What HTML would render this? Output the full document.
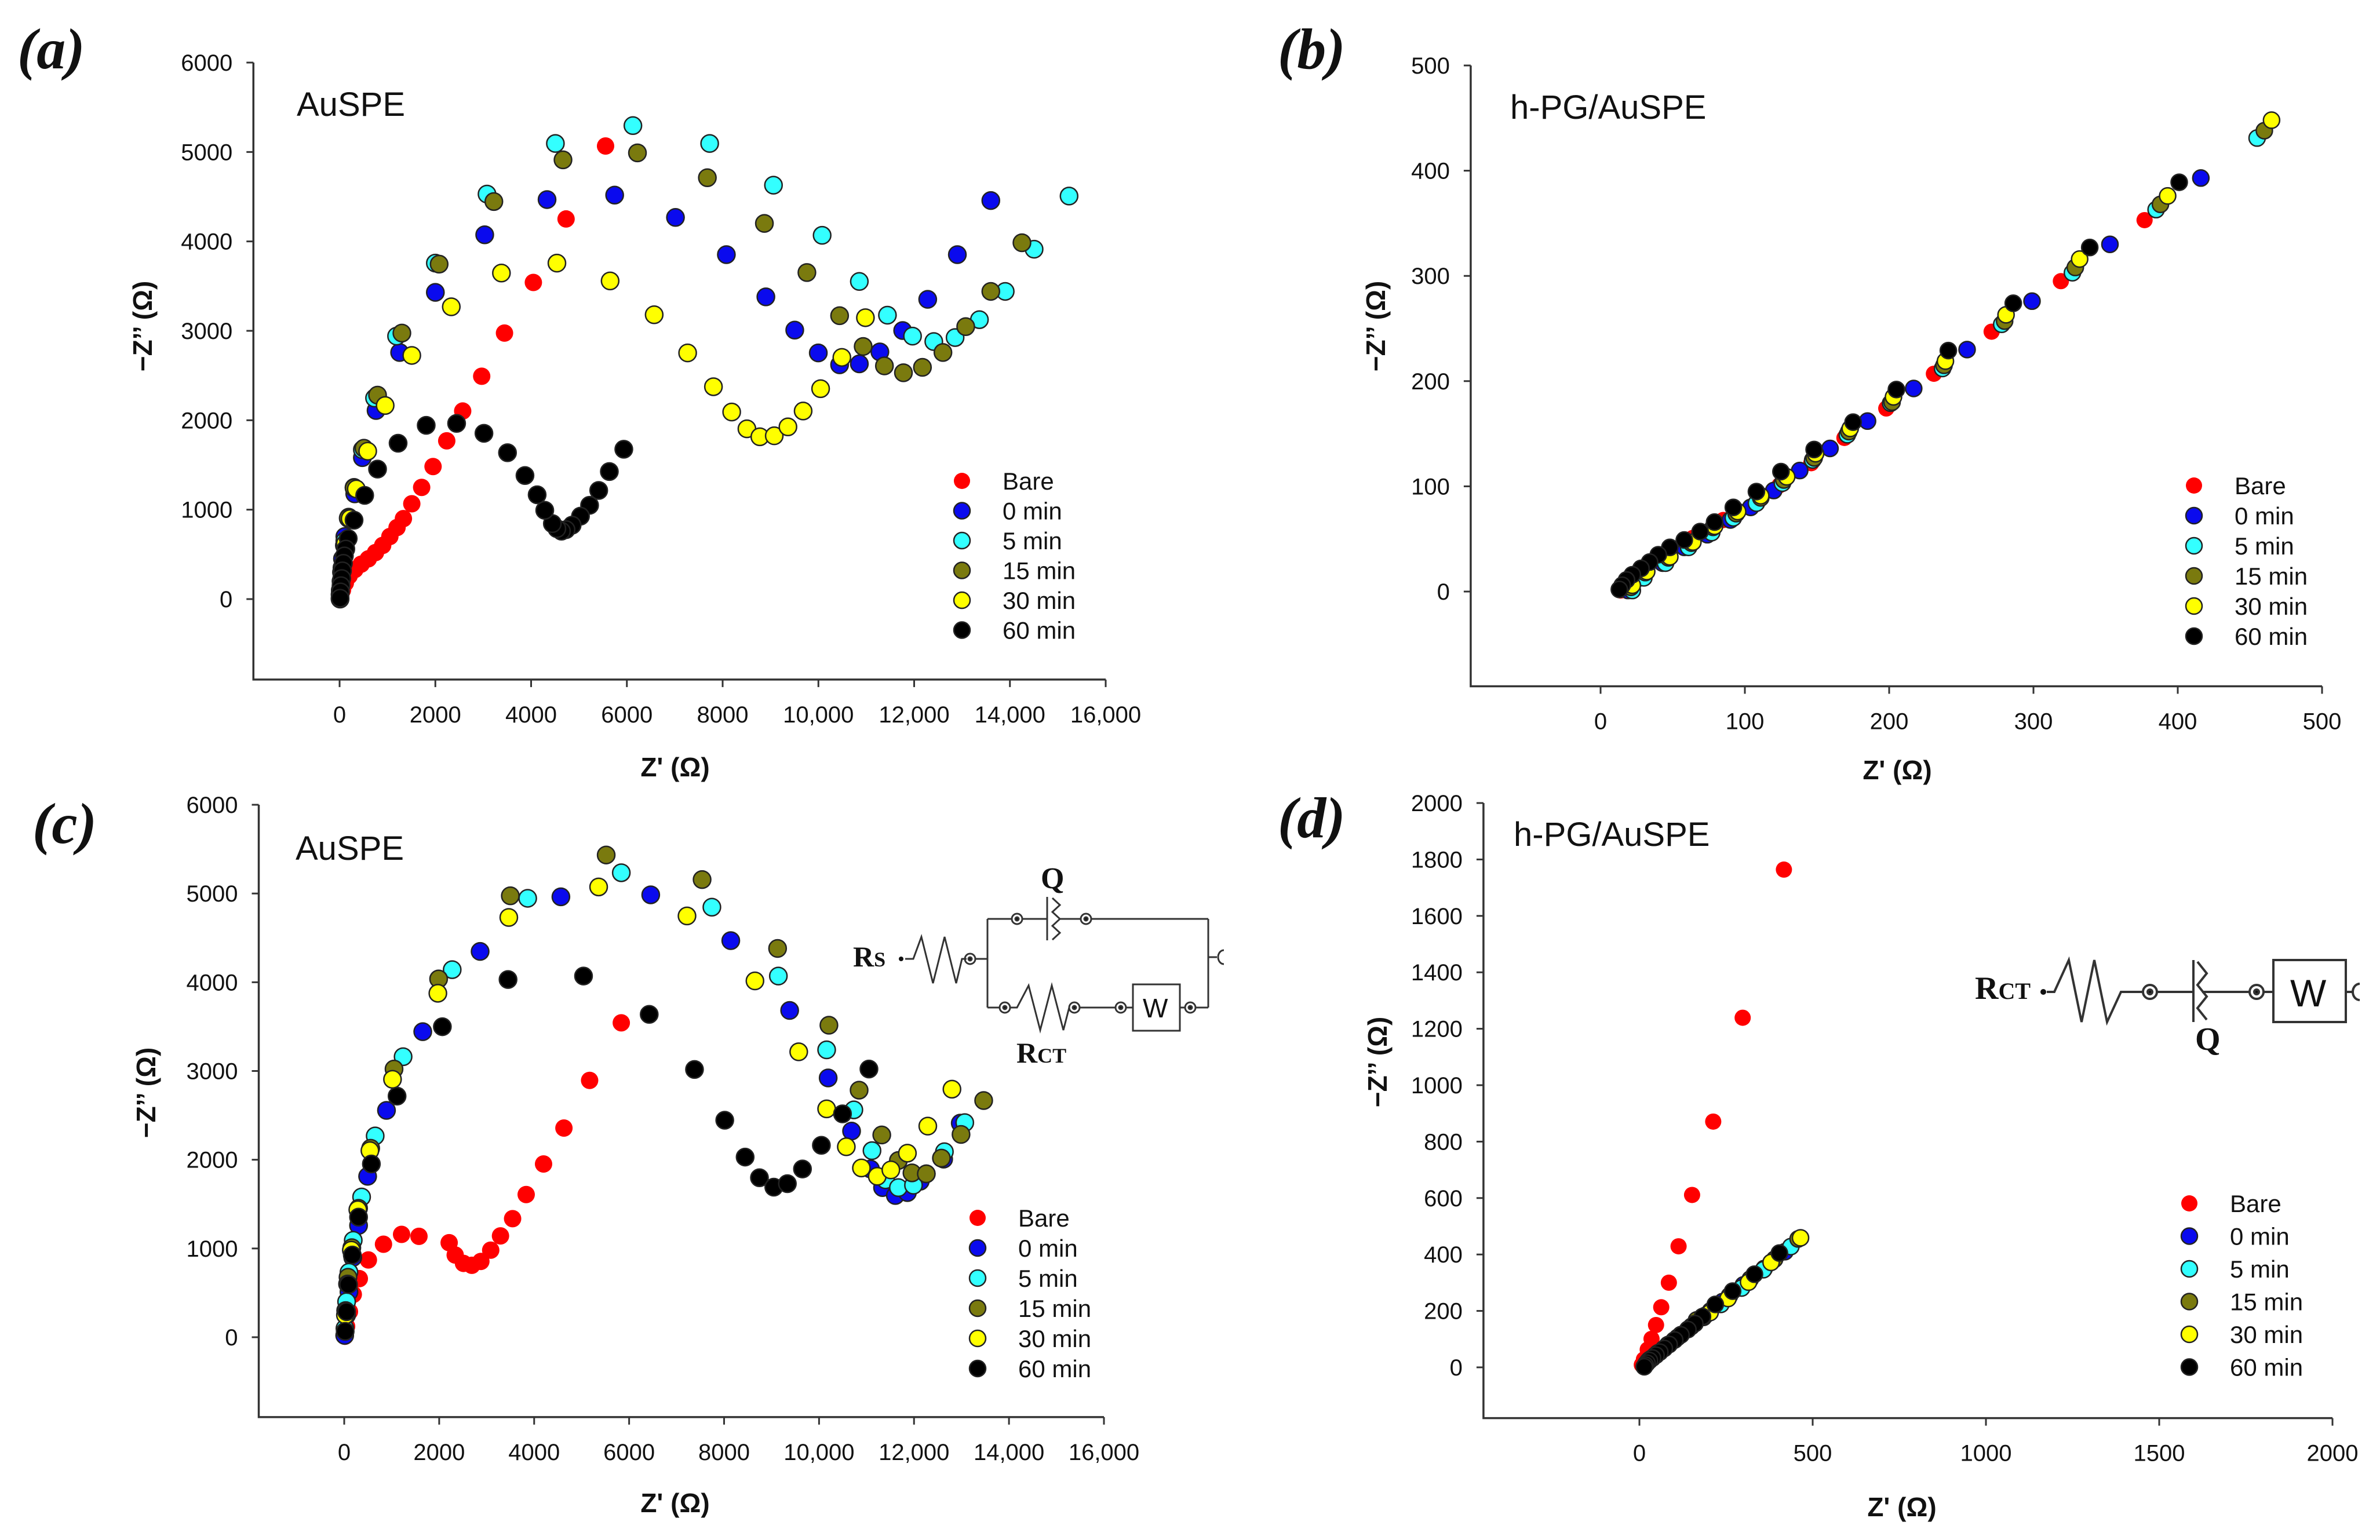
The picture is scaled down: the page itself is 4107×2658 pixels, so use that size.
<!DOCTYPE html>
<html><head><meta charset="utf-8"><style>
html,body{margin:0;padding:0;background:#fff;}
svg{display:block;}
text{font-family:"Liberation Sans",Arial,sans-serif;fill:#111;}
.ser{font-family:"Liberation Serif","Times New Roman",serif;font-weight:bold;}
</style></head><body>
<svg id="fig" xmlns="http://www.w3.org/2000/svg" width="4107" height="2658" viewBox="0 0 4107 2658">
<text class="ser" x="30" y="118" font-size="100" font-style="italic">(a)</text>
<text class="ser" x="2205" y="118" font-size="100" font-style="italic">(b)</text>
<text class="ser" x="56" y="1455" font-size="100" font-style="italic">(c)</text>
<text class="ser" x="2205" y="1445" font-size="100" font-style="italic">(d)</text>
<text x="512" y="200" font-size="58">AuSPE</text>
<text x="2606" y="205" font-size="58">h-PG/AuSPE</text>
<text x="510" y="1484" font-size="58">AuSPE</text>
<text x="2612" y="1460" font-size="58">h-PG/AuSPE</text>

<g fill="none" stroke="#333" stroke-width="3">
<text class="ser" x="1472" y="1668" font-size="50" stroke="none" fill="#111">R<tspan font-size="36">S</tspan></text>
<circle cx="1555" cy="1655" r="4" fill="#111" stroke="none"/>
<polyline points="1562,1655 1576,1655 1590,1617 1610,1697 1630,1617 1650,1697 1660,1655 1668,1655"/>
<circle cx="1674" cy="1655" r="9"/><circle cx="1674" cy="1655" r="3" fill="#111"/>
<line x1="1683" y1="1655" x2="1704" y2="1655"/>
<polyline points="1704,1586 1704,1739"/>
<line x1="1704" y1="1586" x2="1746" y2="1586"/>
<circle cx="1755" cy="1586" r="9"/><circle cx="1755" cy="1586" r="3" fill="#111"/>
<line x1="1764" y1="1586" x2="1807" y2="1586"/>
<line x1="1807" y1="1548" x2="1807" y2="1623"/>
<polyline points="1816,1550 1829,1562 1816,1574 1829,1586 1816,1598 1829,1610 1816,1622"/>
<line x1="1829" y1="1586" x2="1865" y2="1586"/>
<circle cx="1874" cy="1586" r="9"/><circle cx="1874" cy="1586" r="3" fill="#111"/>
<line x1="1883" y1="1586" x2="2085" y2="1586"/>
<line x1="2085" y1="1586" x2="2085" y2="1739"/>
<line x1="2085" y1="1652" x2="2100" y2="1652"/>
<path d="M2112,1640 A10,12 0 0,0 2112,1664"/>
<line x1="1704" y1="1739" x2="1725" y2="1739"/>
<circle cx="1734" cy="1739" r="9"/><circle cx="1734" cy="1739" r="3" fill="#111"/>
<polyline points="1743,1739 1755,1739 1775,1701 1795,1778 1815,1701 1835,1778 1845,1739"/>
<circle cx="1854" cy="1739" r="9"/><circle cx="1854" cy="1739" r="3" fill="#111"/>
<line x1="1863" y1="1739" x2="1925" y2="1739"/>
<circle cx="1934" cy="1739" r="9"/><circle cx="1934" cy="1739" r="3" fill="#111"/>
<line x1="1943" y1="1739" x2="1955" y2="1739"/>
<rect x="1955" y="1699" width="81" height="80"/>
<text x="1972" y="1756" font-size="46" stroke="none" fill="#333">W</text>
<line x1="2036" y1="1739" x2="2045" y2="1739"/>
<circle cx="2054" cy="1739" r="9"/><circle cx="2054" cy="1739" r="3" fill="#111"/>
<line x1="2063" y1="1739" x2="2085" y2="1739"/>
<text class="ser" x="1796" y="1533" font-size="52" stroke="none" fill="#111">Q</text>
<text class="ser" x="1754" y="1834" font-size="50" stroke="none" fill="#111">R<tspan font-size="36">CT</tspan></text>
</g>

<g fill="none" stroke="#333" stroke-width="4">
<text class="ser" x="3408" y="1724" font-size="56" stroke="none" fill="#111">R<tspan font-size="40">CT</tspan></text>
<circle cx="3526" cy="1712" r="5" fill="#111" stroke="none"/>
<polyline points="3532,1712 3545,1712 3570,1657 3592,1764 3614,1657 3636,1764 3660,1712 3698,1712"/>
<circle cx="3710" cy="1712" r="12"/><circle cx="3710" cy="1712" r="4" fill="#111"/>
<line x1="3722" y1="1712" x2="3785" y2="1712"/>
<line x1="3785" y1="1657" x2="3785" y2="1764"/>
<polyline points="3792,1660 3808,1680 3792,1700 3808,1720 3792,1740 3808,1760"/>
<line x1="3800" y1="1712" x2="3882" y2="1712"/>
<circle cx="3894" cy="1712" r="12"/><circle cx="3894" cy="1712" r="4" fill="#111"/>
<line x1="3906" y1="1712" x2="3923" y2="1712"/>
<rect x="3923" y="1657" width="125" height="107"/>
<text x="3952" y="1737" font-size="66" stroke="none" fill="#222">W</text>
<line x1="4048" y1="1712" x2="4060" y2="1712"/>
<path d="M4072,1698 A12,14 0 0,0 4072,1726"/>
<text class="ser" x="3788" y="1812" font-size="56" stroke="none" fill="#111">Q</text>
</g>
</svg>
<script>
const seriesNamesA = ["Bare","0  min","5 min","15 min","30 min","60 min"];
const seriesNames = ["Bare","0 min","5 min","15 min","30 min","60 min"];
const seriesColors = ["#ff0000","#0a0aee","#33ffff","#7a7a0e","#ffff00","#000000"];

const aBare = [[5555,5067],[4730,4251],[4047,3541],[3444,2975],[2968,2492],[2571,2103],[2238,1770],[1952,1482],[1714,1249],[1508,1066],[1333,900],[1200,800],[1050,700],[900,600],[750,520],[600,450],[450,390],[320,330],[200,260],[120,180],[60,100],[20,30],[5,0]];
const a0 = [[4333,4468],[5745,4518],[7015,4268],[8078,3852],[8903,3380],[9506,3008],[9998,2753],[10443,2620],[10855,2631],[11284,2764],[11760,3003],[12283,3352],[12902,3852],[13601,4457],[3031,4074],[2000,3430],[1254,2758],[762,2109],[476,1582],[317,1177],[190,900],[110,700],[60,450],[30,200],[10,0]];
const a5 = [[4507,5095],[6126,5295],[7729,5095],[9062,4629],[10078,4068],[10855,3552],[11442,3175],[11966,2941],[12410,2880],[12855,2925],[13363,3125],[13902,3441],[14505,3913],[15235,4507],[3079,4529],[2000,3757],[1190,2941],[730,2248],[476,1671],[302,1249],[190,916],[110,650],[50,350],[15,100]];
const a15 = [[4666,4912],[6221,4990],[7681,4712],[8872,4201],[9760,3652],[10443,3169],[10935,2825],[11379,2608],[11776,2531],[12173,2592],[12601,2758],[13077,3047],[13601,3441],[14251,3985],[3222,4446],[2079,3746],[1301,2975],[793,2281],[508,1687],[302,1243],[180,905],[100,600],[40,300],[10,50]];
const a30 = [[4539,3757],[5650,3558],[6570,3180],[7269,2753],[7808,2375],[8189,2092],[8507,1904],[8777,1815],[9078,1826],[9364,1926],[9681,2103],[10046,2353],[10490,2703],[10982,3147],[3380,3646],[2333,3269],[1508,2725],[952,2165],[587,1654],[349,1232],[220,900],[120,620],[50,320],[15,80]];
const a60 = [[5936,1676],[5634,1426],[5412,1215],[5221,1049],[5031,927],[4857,827],[4730,777],[4634,760],[4539,788],[4444,844],[4285,993],[4126,1166],[3872,1382],[3507,1637],[3015,1854],[2444,1965],[1809,1943],[1222,1743],[793,1454],[524,1160],[302,882],[180,677],[130,560],[100,483],[80,400],[60,316],[45,230],[30,150],[20,80],[10,10]];

const bBare = [[377,353],[319,295],[271,247],[231,207],[198,174],[169,146],[146,122],[124,101],[106,82],[85,68],[64,51],[48,37],[32,23],[19,9],[14,1]];
const b0 = [[416,393],[353,330],[299,276],[254,230],[217,193],[185,162],[159,136],[138,115],[120,96],[104,80],[90,68],[74,54],[58,42],[43,27],[27,13],[19,1]];
const b5 = [[455,431],[385,363],[327,303],[278,254],[237,212],[201,179],[171,149],[147,125],[126,103],[108,84],[92,70],[77,56],[61,42],[45,27],[30,13],[22,1]];
const b15 = [[460,438],[388,368],[329,308],[280,257],[238,215],[202,180],[172,152],[148,127],[127,106],[111,89],[94,74],[78,61],[63,46],[47,32],[31,18],[21,4]];
const b30 = [[465,448],[393,376],[332,316],[281,263],[239,219],[203,185],[173,155],[149,131],[129,109],[111,91],[95,76],[79,62],[64,47],[48,33],[32,19],[22,6]];
const b60 = [[401,389],[339,327],[286,274],[241,229],[205,192],[175,161],[148,135],[125,114],[108,95],[92,80],[79,66],[69,57],[58,49],[48,42],[40,35],[34,28],[28,22],[22,16],[18,11],[15,6],[13,2]];

const cBare = [[5835,3543],[5168,2894],[4627,2357],[4198,1952],[3832,1608],[3546,1336],[3291,1142],[3085,981],[2878,854],[2687,810],[2512,832],[2337,926],[2210,1065],[1574,1137],[1208,1159],[827,1048],[509,871],[318,660],[191,482],[110,288],[50,122],[15,11]];
const c0 = [[8141,4469],[6455,4985],[4563,4963],[2862,4347],[1654,3443],[890,2556],[493,1813],[302,1259],[180,898],[100,510],[50,250],[10,20],[9381,3682],[10192,2922],[10685,2323],[11083,1896],[11337,1686],[11607,1597],[11861,1630],[12131,1758],[12624,2007],[12974,2412]];
const c5 = [[7743,4846],[5835,5234],[3864,4946],[2274,4142],[1240,3161],[652,2268],[366,1580],[190,1092],[100,732],[50,400],[15,100],[9143,4070],[10160,3238],[10733,2562],[11115,2102],[11400,1774],[11671,1686],[11989,1713],[12259,1841],[12640,2090],[13069,2418]];
const c15 = [[5517,5434],[7537,5157],[9127,4381],[10208,3516],[10844,2784],[11321,2279],[11671,1991],[11957,1852],[12259,1841],[12577,2018],[12990,2285],[13467,2667],[3498,4974],[1988,4037],[1049,3022],[557,2129],[302,1453],[160,1009],[80,676],[30,300]];
const c30 = [[5358,5074],[7219,4747],[8650,4015],[9572,3216],[10160,2573],[10574,2146],[10892,1907],[11226,1813],[11512,1885],[11861,2074],[12290,2379],[12799,2795],[3466,4730],[1972,3876],[1017,2906],[541,2102],[286,1436],[150,981],[70,600],[25,250]];
const c60 = [[5040,4070],[3450,4031],[2067,3499],[1113,2717],[572,1952],[302,1353],[170,926],[90,593],[50,288],[20,66],[6423,3638],[7377,3017],[8014,2445],[8443,2030],[8745,1797],[9047,1691],[9333,1730],[9651,1896],[10049,2163],[10494,2517],[11051,3022]];

const dBare = [[417,1764],[298,1239],[213,871],[152,611],[113,429],[85,300],[63,213],[48,150],[35,101],[24,63],[13,28],[7,9]];
const d0 = [[420,410],[360,350],[300,292],[240,233],[190,184],[150,145],[110,106],[80,77],[55,52],[35,32],[20,14]];
const d5 = [[437,428],[358,346],[295,281],[235,223],[185,177],[140,135],[100,96],[70,66],[45,42],[25,22]];
const d15 = [[458,455],[390,383],[320,313],[260,254],[205,200],[165,168],[120,116],[85,82],[55,52],[30,28]];
const d30 = [[465,459],[380,372],[315,302],[256,244],[204,194],[160,155],[118,114],[82,80],[52,50],[28,26]];
const d60 = [[404,405],[332,330],[269,270],[219,223],[182,180],[160,155],[140,134],[120,115],[102,97],[86,81],[72,67],[59,54],[48,43],[38,33],[29,24],[22,15],[17,8],[14,2]];

const aYTicks = [0,1000,2000,3000,4000,5000,6000];
const aXTicks = [0,2000,4000,6000,8000,10000,12000,14000,16000];
const aXTickLabels = ["0","2000","4000","6000","8000","10,000","12,000","14,000","16,000"];
const bYTicks = [0,100,200,300,400,500];
const bXTicks = [0,100,200,300,400,500];
const dYTicks = [0,200,400,600,800,1000,1200,1400,1600,1800,2000];
const dXTicks = [0,500,1000,1500,2000];

const NS = "http://www.w3.org/2000/svg";
const svg = document.getElementById("fig");
function mk(tag, attrs, parent){ const e=document.createElementNS(NS,tag); for(const k in attrs) e.setAttribute(k,attrs[k]); (parent||svg).appendChild(e); return e; }

function panel(cfg){
  const g = mk("g",{});
  
  
  const sx = v => cfg.x0px + v * (cfg.xTickPx - cfg.x0px) / cfg.xTickVal;
  const sy = v => cfg.y0px - v * (cfg.y0px - cfg.yTickPx) / cfg.yTickVal;
  const left = sx(cfg.xmin), right = sx(cfg.xmax), bottom = sy(cfg.ymin), top = sy(cfg.ymax);
  const ax = mk("path",{d:`M${left},${top} L${left},${bottom} L${right},${bottom}`,fill:"none",stroke:"#333","stroke-width":3.5},g);
  
  
  cfg.yTicks.forEach((t)=>{
    const y = sy(t);
    mk("line",{x1:left-12,y1:y,x2:left,y2:y,stroke:"#333","stroke-width":3},g);
    const tx = mk("text",{x:left-36,y:y+14,"font-size":40,"text-anchor":"end"},g);
    tx.textContent = String(t);
    
    
  });
  cfg.xTicks.forEach((t,i)=>{
    const x = sx(t);
    mk("line",{x1:x,y1:bottom,x2:x,y2:bottom+13,stroke:"#333","stroke-width":3},g);
    const tx = mk("text",{x:x,y:bottom+74,"font-size":40,"text-anchor":"middle"},g);
    tx.textContent = cfg.xLabels ? cfg.xLabels[i] : String(t);
    
    
  });
  const xt = mk("text",{x:cfg.xTitle[0],y:cfg.xTitle[1],"font-size":46,"font-weight":"bold","text-anchor":"middle"},g);
  xt.textContent = "Z' (Ω)";
  
  
  const yt = mk("text",{x:0,y:0,"font-size":46,"font-weight":"bold","text-anchor":"middle",transform:`translate(${cfg.yTitle[0]},${cfg.yTitle[1]}) rotate(-90)`},g);
  yt.textContent = "−Z’’ (Ω)";
  
  
  cfg.series.forEach((pts,si)=>{
    const sg = mk("g",{},g);
    
    
    pts.forEach(p=>{
      const c = mk("circle",{cx:sx(p[0]),cy:sy(p[1]),r:cfg.r,fill:seriesColors[si],stroke:si===0?"none":"#222","stroke-width":2.5},sg);
      
      
    });
  });
  const lg = mk("g",{},g);
  
  
  cfg.names.forEach((n,i)=>{
    const y = cfg.leg[1] + i*cfg.leg[2];
    mk("circle",{cx:cfg.leg[0],cy:y,r:14,fill:seriesColors[i],stroke:i===0?"none":"#222","stroke-width":2.5},lg);
    const t = mk("text",{x:cfg.leg[0]+70,y:y+15,"font-size":42,"xml:space":"preserve"},lg);
    t.textContent = n;
    
    
  });
}

panel({id:"a",x0px:586,xTickPx:1908,xTickVal:16000,y0px:1034,yTickPx:108,yTickVal:6000,
  xmin:-1800,xmax:16000,ymin:-900,ymax:6000,yTicks:aYTicks,xTicks:aXTicks,xLabels:aXTickLabels,
  xTitle:[1165,1340],yTitle:[262,563],r:15,series:[aBare,a0,a5,a15,a30,a60],leg:[1660,830,51.5],names:seriesNamesA});
panel({id:"b",x0px:2762,xTickPx:4007,xTickVal:500,y0px:1021,yTickPx:113,yTickVal:500,
  xmin:-90,xmax:500,ymin:-90,ymax:500,yTicks:bYTicks,xTicks:bXTicks,
  xTitle:[3274,1345],yTitle:[2390,563],r:14,series:[bBare,b0,b5,b15,b30,b60],leg:[3786,838,52],names:seriesNames});
panel({id:"c",x0px:594,xTickPx:1905,xTickVal:16000,y0px:2308,yTickPx:1389,yTickVal:6000,
  xmin:-1800,xmax:16000,ymin:-900,ymax:6000,yTicks:aYTicks,xTicks:aXTicks,xLabels:aXTickLabels,
  xTitle:[1165,2610],yTitle:[268,1886],r:15,series:[cBare,c0,c5,c15,c30,c60],leg:[1687,2102,52],names:seriesNames});
panel({id:"d",x0px:2829,xTickPx:4025,xTickVal:2000,y0px:2360,yTickPx:1386,yTickVal:2000,
  xmin:-450,xmax:2000,ymin:-180,ymax:2000,yTicks:dYTicks,xTicks:dXTicks,
  xTitle:[3282,2617],yTitle:[2393,1833],r:14,series:[dBare,d0,d5,d15,d30,d60],leg:[3778,2077,56.5],names:seriesNames});
</script>
</body></html>
